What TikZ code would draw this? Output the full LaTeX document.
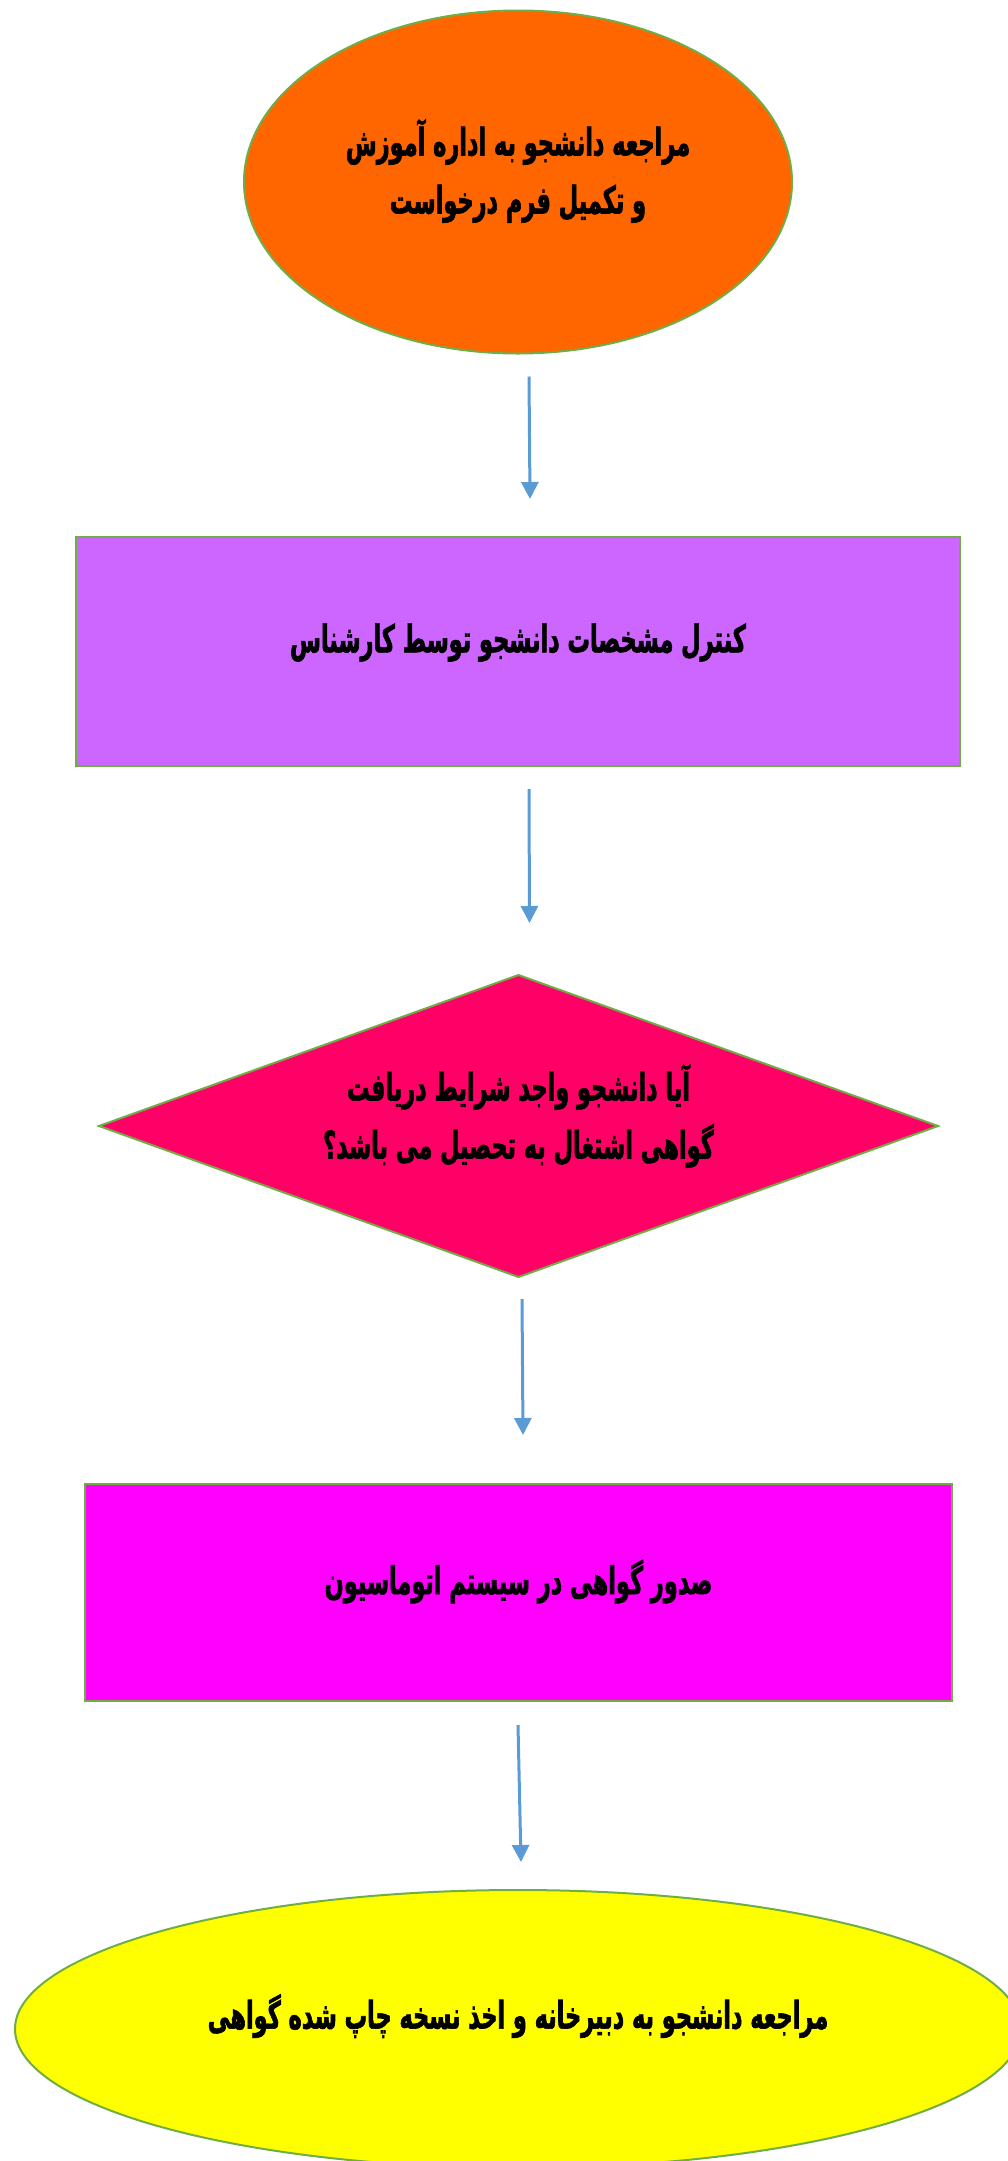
\documentclass[tikz,border=0pt]{standalone}
\usepackage{fontspec}
\newfontfamily\arabicfont[Script=Arabic,FakeStretch=0.59,FakeBold=1.6]{DejaVu Sans}
\TeXXeTstate=1
\usetikzlibrary{shapes.geometric,arrows.meta}
\definecolor{edgegreen}{HTML}{70AD47}
\definecolor{arrowblue}{HTML}{5B9BD5}
\definecolor{c1}{HTML}{FF6600}
\definecolor{c2}{HTML}{CC66FF}
\definecolor{c3}{HTML}{FF0066}
\definecolor{c4}{HTML}{FF00FF}
\definecolor{c5}{HTML}{FFFF00}
\tikzset{
  shp/.style={draw=edgegreen, line width=2pt, inner sep=0pt, outer sep=0pt},
  ellnode/.style={shp, ellipse},
  boxnode/.style={shp, rectangle},
  decnode/.style={shp, diamond, aspect=2.78},
  txt/.style={inner sep=0pt, align=center, text=black,
    font={\arabicfont\bfseries\fontsize{38pt}{58pt}\selectfont}},
  arr/.style={draw=arrowblue, line width=3pt, -{Triangle[length=17pt,width=17pt]}}
}
\begin{document}
\begin{tikzpicture}[x=1pt,y=-1pt]
\useasboundingbox (0,0) rectangle (1007,2161);
\node[ellnode, fill=c1, minimum width=548pt, minimum height=343pt] (e1) at (518,182) {};
\node[boxnode, fill=c2, minimum width=884pt, minimum height=229pt] (r1) at (518,651.5) {};
\node[decnode, fill=c3, minimum width=839pt, minimum height=302pt] (d1) at (518.5,1126) {};
\node[boxnode, fill=c4, minimum width=867pt, minimum height=217pt] (r2) at (518.5,1592.5) {};
\node[ellnode, fill=c5, minimum width=1006pt, minimum height=278pt] (e2) at (518,2029) {};
\node[txt] (e1t) at ([yshift=11pt]e1.center)
  {\beginR مراجعه دانشجو به اداره آموزش\endR\\\beginR و تکمیل فرم درخواست\endR};
\node[txt] (r1t) at ([yshift=9pt]r1.center)
  {\beginR کنترل مشخصات دانشجو توسط کارشناس\endR};
\node[txt] (d1t) at ([yshift=10pt]d1.center)
  {\beginR آیا دانشجو واجد شرایط دریافت\endR\\\beginR گواهی اشتغال به تحصیل می باشد؟\endR};
\node[txt] (r2t) at ([yshift=11pt]r2.center)
  {\beginR صدور گواهی در سیستم اتوماسیون\endR};
\node[txt] (e2t) at ([yshift=13pt]e2.center)
  {\beginR مراجعه دانشجو به دبیرخانه و اخذ نسخه چاپ شده گواهی\endR};
\draw[arr] ([xshift=11pt,yshift=-23pt]e1.south) -- ([xshift=12pt,yshift=38pt]r1.north);
\draw[arr] ([xshift=11pt,yshift=-23pt]r1.south) -- ([xshift=11pt,yshift=52pt]d1.north);
\draw[arr] ([xshift=3.5pt,yshift=-22pt]d1.south) -- ([xshift=4.5pt,yshift=49pt]r2.north);
\draw[arr] ([xshift=-0.5pt,yshift=-24pt]r2.south) -- ([xshift=3pt,yshift=28pt]e2.north);
\end{tikzpicture}
\end{document}
